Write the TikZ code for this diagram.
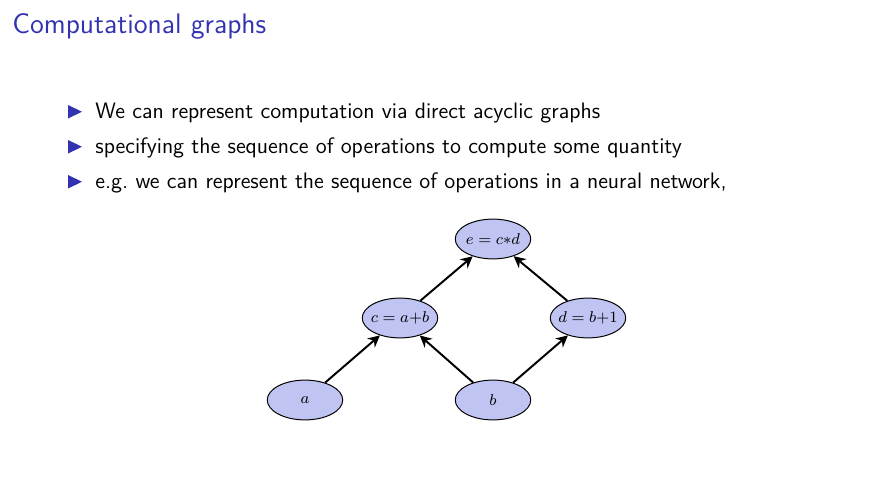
\documentclass[tikz,border=0pt]{standalone}
\usetikzlibrary{shapes.geometric,arrows.meta}
\definecolor{struct}{rgb}{0.2,0.2,0.7}
\definecolor{nodefill}{RGB}{192,196,242}
\begin{document}
\begin{tikzpicture}[x=0.51pt,y=-0.51pt,
  opnode/.style={ellipse,draw=black,fill=nodefill,line width=0.5pt,minimum width=38.5pt,minimum height=20.3pt,inner sep=0pt,font=\fontsize{8}{10}\selectfont},
  arr/.style={line width=1pt,-{Stealth[length=6pt,width=6pt]}},
  bullettext/.style={anchor=base west,inner sep=0pt,font=\sffamily\fontsize{11.4}{13}\selectfont},
  bulletmark/.style={fill=struct,draw=none}]
\useasboundingbox (0,0) rectangle (892,493);
% title
\node[anchor=base west,inner sep=0pt,text=struct,font=\sffamily\fontsize{14.4}{17}\selectfont] (title) at (12,33) {Computational graphs};
% bullets
\foreach \yy in {118,153,188}{
  \fill[bulletmark] (68,\yy-13) -- (68,\yy+0.5) -- (82,\yy-6.25) -- cycle;
}
\node[bullettext] (t1) at (95,118) {We can represent computation via direct acyclic graphs};
\node[bullettext] (t2) at (95,153) {specifying the sequence of operations to compute some quantity};
\node[bullettext] (t3) at (95,188) {e.g.\ we can represent the sequence of operations in a neural network,};
% graph
\node[opnode] (e) at (493,239) {\makebox[0pt]{$e=c{*}d$}};
\node[opnode] (c) at (400,318) {\makebox[0pt]{$c=a{+}b$}};
\node[opnode] (d) at (588,318) {\makebox[0pt]{$d=b{+}1$}};
\node[opnode] (a) at (305,400) {\makebox[0pt]{$a$}};
\node[opnode] (b) at (493,400) {\makebox[0pt]{$b$}};
\draw[arr] (a) -- (c);
\draw[arr] (b) -- (c);
\draw[arr] (b) -- (d);
\draw[arr] (c) -- (e);
\draw[arr] (d) -- (e);
\end{tikzpicture}
\end{document}
